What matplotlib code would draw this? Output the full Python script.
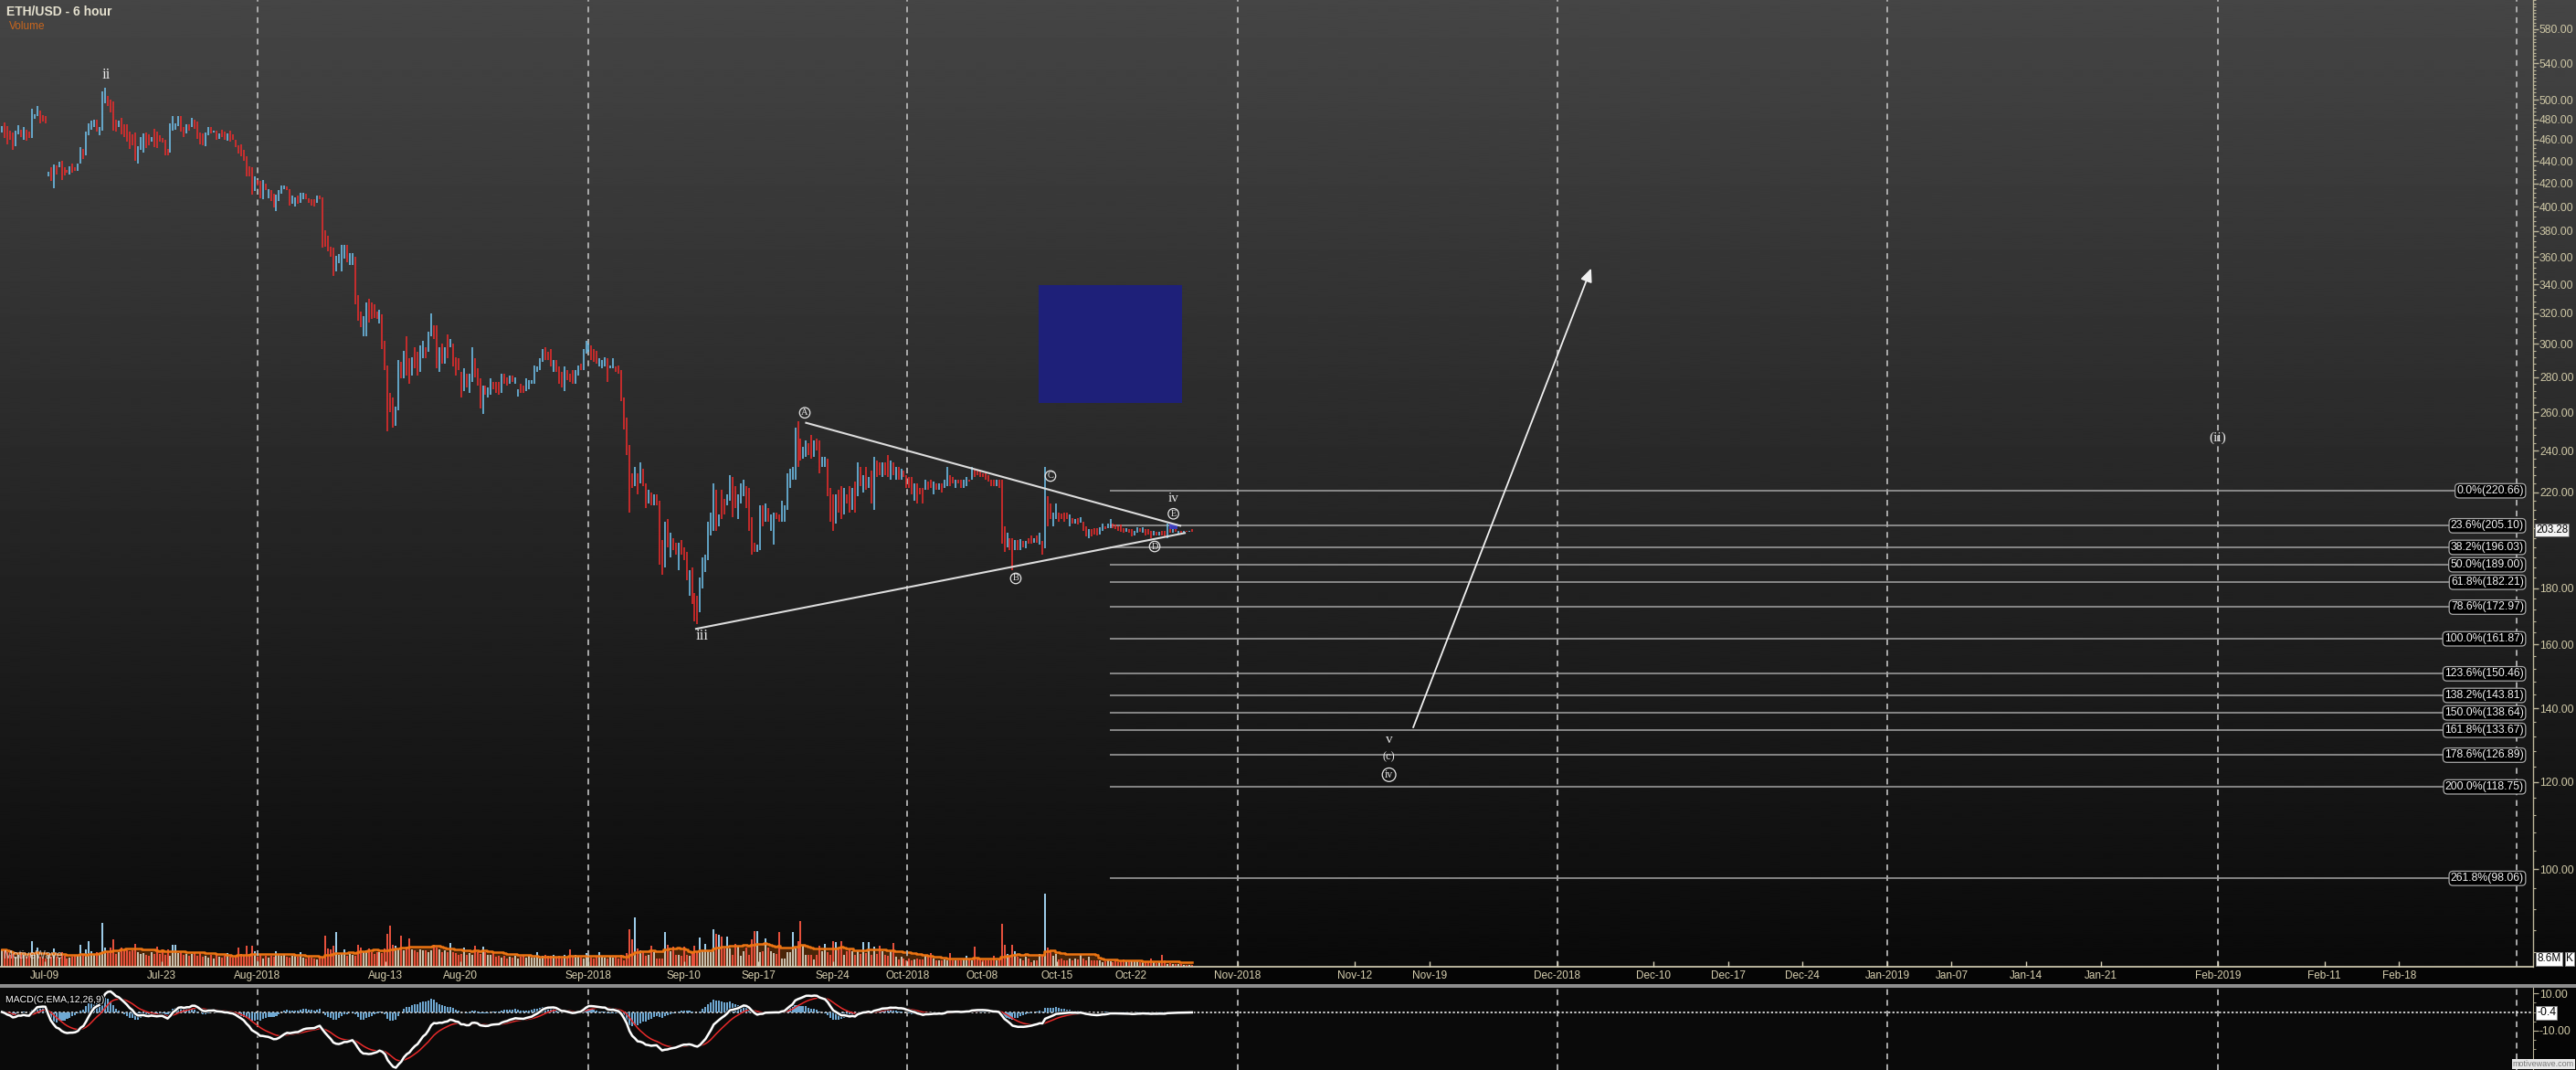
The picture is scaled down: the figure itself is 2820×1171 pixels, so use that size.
import numpy as np
import pandas as pd
import matplotlib
matplotlib.use("Agg")
import matplotlib.pyplot as plt
import matplotlib.patheffects as pe
from matplotlib.patches import Rectangle
from matplotlib.ticker import FixedLocator, NullFormatter

plt.rcParams['font.family'] = ['Liberation Sans', 'DejaVu Sans']

# ---------------------------------------------------------------- data
# 6-hour ETH/USD bars (high, low, direction u=up / d=down)
bar_high = [
    473, 477, 473, 469, 467, 469, 474, 470, 472, 470,
    468, 491, 485, 494, 489, 484, 483, 430, 434, 437,
    436, 439, 440, 434, 432, 435, 438, 434, 438, 453,
    451, 468, 476, 479, 480, 480, 472, 509, 513, 504,
    500, 498, 480, 479, 482, 475, 475, 468, 465, 467,
    454, 463, 466, 467, 465, 463, 471, 468, 464, 462,
    460, 451, 476, 483, 476, 483, 483, 472, 475, 475,
    482, 480, 478, 467, 466, 467, 472, 472, 469, 469,
    466, 470, 468, 466, 469, 465, 460, 455, 456, 450,
    444, 435, 434, 426, 423, 422, 423, 420, 415, 414,
    411, 410, 414, 418, 418, 417, 415, 409, 408, 409,
    412, 412, 411, 407, 406, 406, 409, 409, 408, 381,
    376, 368, 367, 361, 362, 369, 369, 369, 363, 363,
    360, 332, 321, 318, 327, 330, 327, 326, 321, 322,
    319, 302, 287, 271, 268, 263, 290, 289, 296, 305,
    291, 292, 298, 295, 299, 302, 298, 308, 320, 312,
    312, 298, 300, 298, 306, 303, 300, 292, 291, 283,
    285, 282, 282, 298, 291, 285, 279, 275, 275, 274,
    279, 277, 277, 277, 282, 282, 280, 281, 281, 280,
    273, 276, 275, 279, 278, 278, 287, 286, 291, 297,
    298, 295, 297, 290, 290, 286, 283, 286, 284, 282,
    284, 284, 287, 288, 297, 302, 300, 299, 297, 296,
    291, 290, 292, 291, 287, 291, 286, 287, 284, 268,
    257, 243, 229, 232, 229, 234, 231, 224, 221, 220,
    219, 219, 216, 199, 207, 208, 202, 200, 198, 198,
    199, 196, 194, 187, 188, 178, 177, 184, 192, 193,
    207, 211, 224, 221, 210, 221, 217, 219, 228, 227,
    223, 219, 224, 226, 223, 222, 209, 198, 197, 214,
    214, 215, 213, 210, 211, 211, 210, 216, 214, 229,
    231, 232, 252, 255, 246, 242, 245, 244, 248, 245,
    246, 245, 237, 237, 236, 222, 219, 219, 221, 223,
    222, 219, 223, 222, 225, 234, 232, 228, 232, 227,
    230, 237, 235, 234, 234, 234, 238, 235, 234, 232,
    232, 231, 230, 228, 227, 227, 224, 224, 222, 222,
    226, 225, 226, 225, 224, 224, 224, 226, 232, 228,
    227, 226, 226, 226, 226, 227, 226, 232, 231, 230,
    230, 229, 229, 228, 226, 226, 226, 226, 226, 205,
    202, 200, 200, 199, 199, 199.5, 198.5, 198.5, 200, 201,
    200, 201, 202, 198.5, 232, 218, 215, 211, 215, 211,
    210.5, 211, 211, 210, 208.5, 208, 208.5, 209, 207, 205,
    203.5, 203.5, 204, 204, 204.5, 206, 205, 206, 208, 206,
    205.5, 205, 205.5, 204, 204, 203.5, 203.5, 203, 204.5, 204,
    204.5, 203.5, 203.5, 203, 203, 202.5, 202.5, 203, 203, 206,
    205, 203.5, 203.5, 203, 203, 203, 203, 203, 203.5,
]
bar_low = [
    467, 462, 456, 460, 450, 454, 465, 463, 460, 459,
    462, 462, 481, 483, 476, 478, 476, 426, 422, 416,
    428, 434, 423, 427, 429, 428, 429, 431, 431, 438,
    442, 445, 464, 470, 472, 468, 464, 469, 497, 494,
    487, 469, 468, 472, 465, 463, 458, 451, 455, 440,
    438, 450, 448, 452, 455, 458, 453, 452, 458, 457,
    445, 445, 448, 469, 470, 473, 468, 463, 466, 469,
    472, 471, 461, 456, 455, 454, 464, 466, 467, 460,
    461, 463, 460, 459, 458, 460, 453, 447, 444, 440,
    426, 426, 410, 413, 418, 407, 406, 414, 407, 405,
    399, 396, 405, 411, 415, 414, 401, 402, 400, 402,
    403, 406, 406, 403, 401, 400, 403, 406, 367, 368,
    364, 360, 346, 349, 355, 349, 359, 356, 354, 354,
    326, 315, 311, 305, 305, 314, 316, 317, 316, 313,
    297, 284, 250, 260, 252, 253, 261, 279, 279, 281,
    276, 281, 285, 281, 283, 291, 291, 295, 305, 303,
    285, 283, 288, 288, 291, 298, 286, 281, 284, 268,
    272, 274, 271, 277, 280, 275, 262, 259, 270, 268,
    270, 273, 271, 270, 271, 276, 275, 276, 277, 276,
    269, 271, 271, 272, 273, 276, 276, 283, 284, 289,
    290, 290, 286, 283, 283, 276, 274, 272, 278, 277,
    276, 276, 281, 284, 284, 294, 295, 290, 289, 288,
    286, 285, 286, 277, 285, 285, 283, 282, 266, 251,
    238, 211, 222, 223, 219, 224, 223, 213, 215, 214,
    214, 214, 189, 185, 188, 196, 192, 195, 193, 187,
    193, 191, 183, 177, 174, 168, 167, 171, 180, 186,
    191, 201, 203, 203, 205, 208, 210, 214, 216, 209,
    213, 208, 215, 218, 213, 203, 193, 194, 194, 195,
    205, 207, 207, 203, 197, 208, 207, 207, 207, 212,
    222, 226, 226, 232, 235, 236, 237, 238, 236, 237,
    240, 229, 232, 232, 218, 207, 203, 206, 211, 208,
    210, 215, 211, 212, 211, 218, 223, 220, 221, 222,
    215, 212, 227, 228, 227, 228, 227, 226, 228, 226,
    226, 226, 227, 222, 222, 219, 216, 215, 219, 215,
    221, 221, 222, 219, 221, 221, 220, 222, 223, 223,
    224, 222, 224, 222, 222, 223, 225, 226, 227, 228,
    227, 227, 226, 225, 223, 223, 223, 222, 197.5, 194,
    196, 195, 187, 195, 195, 195, 196, 195.5, 197.5, 197.5,
    198, 198, 197, 193, 195.5, 205, 208, 205, 208, 207,
    208, 207, 208, 205, 206, 206, 205.5, 206.5, 203, 200.5,
    200, 200.5, 201.5, 201, 201.5, 203, 203.5, 204, 204, 204,
    203.5, 203, 202.5, 202, 202.5, 202, 200.5, 201, 202, 202.5,
    202, 201, 201.5, 200, 201, 201, 201, 201, 200.5, 200,
    202, 202, 202.5, 201.5, 202, 202, 202.5, 202.5, 202.5,
]
bar_dir = (
    "u d d d d u u d u d  d u u u d d d u d u  d u d d d u d d u u  "
    "d u u u u d u u u d  d d d u d d d d d d  u u u d d u d d d d  "
    "d d u u u u d d u d  u d d d d u u d u d  u d d u d d d d d d  "
    "d d d u d d u d u d  d u u u u d d u u d  u u d d d d u d d d  "
    "d d d u u u u d u u  d d d u u d d d d u  d d d d d u u d u d  "
    "d u d d u u d u u d  d u d u d u d d d d  u d u u d d d u d u  "
    "u d d d u d d u d u  u d d u u u u u u u  d d d u d d d u d d  "
    "d u u d u u u d d d  u u u d u u d d d d  d d d u d u d d u d  "
    "u d d d u d u d d u  d d d u d d d u u u  u u u d u d d u u d  "
    "d u u u d d d d u u  d u d u u d d u u u  u u u d d u u d d u  "
    "d d u u d d d u d d  u d d u d u d u d u  d u d d u d d u d u  "
    "d u d d d d u d d d  u d d u d u d u u d  d u d d u u d u d d  "
    "d d d d d d u d d d  u d d u d u d u d d  u d u d u d d u u d  "
    "d d d u d u d u d d  u d d d u u d u u d  d d d d u d d u u d  "
    "u d d d u d u d d u  d u d u d u d u d"
).split()
# volume per bar (millions)
volume = [
    19, 19, 16, 13, 14, 11, 13, 16, 13, 11,
    12, 28, 13, 21, 11, 10, 9, 12, 11, 20,
    11, 10, 16, 12, 9, 10, 11, 13, 12, 24,
    13, 19, 28, 17, 14, 16, 15, 48, 21, 16,
    21, 30, 14, 16, 21, 18, 18, 17, 18, 25,
    16, 14, 15, 13, 12, 16, 14, 22, 14, 19,
    13, 19, 12, 24, 24, 15, 16, 13, 14, 12,
    14, 15, 12, 15, 11, 12, 10, 13, 9, 14,
    11, 10, 12, 15, 11, 10, 12, 21, 14, 13,
    23, 14, 23, 17, 11, 13, 9, 12, 10, 12,
    11, 17, 13, 12, 14, 11, 10, 12, 13, 11,
    16, 10, 9, 11, 10, 9, 8, 10, 11, 34,
    20, 19, 23, 38, 13, 14, 19, 12, 14, 13,
    12, 24, 21, 16, 18, 20, 16, 14, 16, 16,
    15, 20, 36, 45, 24, 23, 19, 34, 18, 22,
    31, 19, 18, 16, 19, 18, 18, 16, 18, 24,
    21, 19, 16, 18, 16, 26, 16, 15, 13, 14,
    21, 13, 15, 13, 23, 16, 14, 22, 16, 13,
    13, 15, 11, 12, 10, 12, 9, 11, 10, 12,
    9, 11, 13, 10, 12, 10, 10, 16, 9, 12,
    13, 12, 12, 13, 10, 12, 9, 13, 11, 19,
    12, 13, 11, 10, 9, 15, 13, 10, 9, 12,
    16, 12, 10, 9, 11, 10, 12, 9, 13, 7,
    15, 41, 30, 54, 20, 18, 17, 12, 13, 23,
    16, 9, 9, 9, 38, 24, 17, 22, 13, 13,
    12, 22, 13, 12, 16, 23, 17, 32, 18, 25,
    18, 16, 41, 36, 35, 33, 20, 33, 20, 13,
    25, 22, 12, 17, 21, 13, 30, 39, 39, 16,
    17, 31, 21, 17, 15, 14, 38, 9, 9, 16,
    16, 38, 20, 28, 50, 23, 13, 13, 13, 8,
    13, 23, 17, 25, 16, 13, 28, 27, 20, 28,
    13, 17, 19, 17, 13, 17, 14, 27, 15, 27,
    13, 22, 14, 23, 17, 13, 12, 17, 26, 11,
    8, 11, 9, 7, 9, 7, 8, 9, 8, 8,
    13, 11, 15, 9, 7, 7, 7, 8, 7, 15,
    7, 7, 7, 7, 8, 12, 8, 7, 22, 10,
    8, 7, 7, 7, 7, 12, 7, 8, 47, 24,
    14, 12, 24, 17, 11, 9, 7, 11, 9, 5,
    7, 7, 14, 13, 80, 21, 17, 12, 14, 8,
    9, 7, 7, 9, 7, 9, 8, 13, 9, 7,
    11, 7, 7, 7, 7, 5, 6, 7, 6, 5,
    8, 5, 6, 8, 6, 6, 7, 6, 6, 5,
    6, 5, 6, 9, 6, 4, 5, 13, 7, 3,
    4, 3, 3, 3, 3, 2, 2, 2, 2,
]
last_price = 203.28
last_volume_label = "8.6M"
last_macd_label = "-0.4"

fib_pcts = ['0.0', '23.6', '38.2', '50.0', '61.8', '78.6', '100.0',
            '123.6', '138.2', '150.0', '161.8', '178.6', '200.0', '261.8']
fib_prices = [220.66, 205.10, 196.03, 189.00, 182.21, 172.97, 161.87,
              150.46, 143.81, 138.64, 133.67, 126.89, 118.75, 98.06]

price_ticks = [100, 120, 140, 160, 180, 220, 240, 260, 280, 300, 320, 340,
               360, 380, 400, 420, 440, 460, 480, 500, 540, 580]

tick_labels = ['Jul-09', 'Jul-23', 'Aug-2018', 'Aug-13', 'Aug-20', 'Sep-2018',
               'Sep-10', 'Sep-17', 'Sep-24', 'Oct-2018', 'Oct-08', 'Oct-15',
               'Oct-22', 'Nov-2018', 'Nov-12', 'Nov-19', 'Dec-2018', 'Dec-10',
               'Dec-17', 'Dec-24', 'Jan-2019', 'Jan-07', 'Jan-14', 'Jan-21',
               'Feb-2019', 'Feb-11', 'Feb-18']
tick_dates = ['2018-07-09', '2018-07-23', '2018-08-01', '2018-08-13', '2018-08-20',
              '2018-09-01', '2018-09-10', '2018-09-17', '2018-09-24', '2018-10-01',
              '2018-10-08', '2018-10-15', '2018-10-22', '2018-11-01', '2018-11-12',
              '2018-11-19', '2018-12-01', '2018-12-10', '2018-12-17', '2018-12-24',
              '2019-01-01', '2019-01-07', '2019-01-14', '2019-01-21', '2019-02-01',
              '2019-02-11', '2019-02-18']
month_dates = ['2018-08-01', '2018-09-01', '2018-10-01', '2018-11-01',
               '2018-12-01', '2019-01-01', '2019-02-01', '2019-03-01']

# Elliott-wave annotations: (text, day since 2018-07-01, price, size)
wave_plain = [('ii', 16.75, 527.0, 12), ('iii', 72.73, 163.0, 12),
              ('iv', 116.96, 217.0, 11), ('v', 137.2, 131.0, 11),
              ('(c)', 137.2, 126.4, 9), ('(ii)', 215.0, 246.6, 11)]
wave_circled = [('A', 82.36, 259.8, 7.5), ('B', 102.16, 183.7, 7.5),
                ('C', 105.42, 227.6, 7.5), ('D', 115.2, 196.4, 7.5),
                ('E', 116.96, 210.3, 7.5), ('iv', 137.2, 121.8, 8.5)]
tri_upper = [(82.48, 254.4), (117.6, 205.1)]
tri_lower = [(72.15, 165.3), (118.03, 202.0)]
arrow_from, arrow_to = (139.38, 133.8), (156.26, 353.3)
box_days, box_prices = (104.3, 117.8), (265.2, 339.4)
fib_start_day = 111.0

# ---------------------------------------------------------------- layout
W, H = 2820, 1171
PX_PER_DAY = 11.663
LEFT_DAY = 6.82
PLOT_W = 2773
PRICE_H = 1058
MACD_TOP = 1081
BAR_START, BAR_STEP = 7.0, 0.255
PRICE_LIM = (81.5, 616.3)
MACD_LIM = (-30.98, 12.93)


def day_of_px(px):
    return LEFT_DAY + px / PX_PER_DAY


def day_of_date(s):
    t = pd.Timestamp(s)
    d = (t - pd.Timestamp('2018-07-01')).days
    # bar feed has a 3-day hole before Jul-12, which shifts earlier dates right
    return d + (3 if t < pd.Timestamp('2018-07-12') else 0)


XMIN, XMAX = LEFT_DAY, day_of_px(PLOT_W)
BEIGE = '#cfc8a6'
AXBEIGE = '#bdb69a'

highs = np.array(bar_high, float)
lows = np.array(bar_low, float)
assert len(highs) == len(lows) == len(bar_dir) == len(volume), (len(highs), len(lows), len(bar_dir), len(volume))
n = len(highs)
x = BAR_START + BAR_STEP * np.arange(n)
up = np.array([d == 'u' for d in bar_dir])
closes = np.where(up, lows + 0.8 * (highs - lows), lows + 0.2 * (highs - lows))
vol = np.array(volume, float)
vol_ma = pd.Series(vol).rolling(20, min_periods=1).mean().values

cs = pd.Series(closes)
macd = (cs.ewm(span=12, adjust=False).mean() - cs.ewm(span=26, adjust=False).mean()).values
signal = pd.Series(macd).ewm(span=9, adjust=False).mean().values
hist = macd - signal

fig = plt.figure(figsize=(W / 100, H / 100), dpi=100, facecolor='#050505')

# background gradient for the price panel
bg = fig.add_axes([0, 1 - PRICE_H / H, 1, PRICE_H / H])
grad = np.linspace(0x45, 0x0a, 512)[:, None]
bg.imshow(grad, cmap='gray', vmin=0, vmax=255, aspect='auto',
          extent=[0, 1, 0, 1], interpolation='bilinear')
bg.axis('off')

# ---------------- volume (overlay at bottom of price panel)
axv = fig.add_axes([0, 1 - PRICE_H / H, PLOT_W / W, PRICE_H / H])
axv.patch.set_alpha(0)
axv.set_xlim(XMIN, XMAX)
axv.set_ylim(0, PRICE_H)
axv.axis('off')
axv.fill_between(x, 0, vol_ma, step='mid', color='#4a2508', lw=0, zorder=1)
axv.vlines(x[~up], 0, vol[~up], color='#e5503c', lw=1.45, zorder=2)
low_part = np.minimum(vol, vol_ma)
axv.vlines(x[up], 0, low_part[up], color='#c9bfac', lw=1.45, zorder=2)
sel = up & (vol > vol_ma)
axv.vlines(x[sel], vol_ma[sel], vol[sel], color='#9ccbe8', lw=1.45, zorder=2)
axv.plot(x, vol_ma, drawstyle='steps-mid', color='#ec7412', lw=1.8, zorder=3)
axv.text(1.0 + 4 / PLOT_W, 8.6, last_volume_label, transform=axv.get_yaxis_transform(),
         ha='left', va='center', fontsize=8.5, color='black',
         bbox=dict(boxstyle='square,pad=0.12', fc='white', ec='#888888', lw=0.6))
axv.text(1.0 + 36 / PLOT_W, 8.6, 'K', transform=axv.get_yaxis_transform(),
         ha='left', va='center', fontsize=8.5, color='black',
         bbox=dict(boxstyle='square,pad=0.12', fc='white', ec='#888888', lw=0.6))

# ---------------- price panel
ax = fig.add_axes([0, 1 - PRICE_H / H, PLOT_W / W, PRICE_H / H])
ax.patch.set_alpha(0)
ax.set_yscale('log')
ax.set_xlim(XMIN, XMAX)
ax.set_ylim(*PRICE_LIM)

for s in ['top', 'left']:
    ax.spines[s].set_visible(False)
ax.spines['right'].set_color(AXBEIGE)
ax.spines['bottom'].set_color('#d8d2b8')
ax.spines['right'].set_linewidth(1.0)
ax.spines['bottom'].set_linewidth(1.2)

ax.yaxis.tick_right()
ax.yaxis.set_major_locator(FixedLocator(price_ticks))
ax.yaxis.set_major_formatter(matplotlib.ticker.FixedFormatter([f'{v:.2f}' for v in price_ticks]))
ax.yaxis.set_minor_locator(FixedLocator(np.arange(84, 617, 4)))
ax.yaxis.set_minor_formatter(NullFormatter())
ax.tick_params(axis='y', which='major', direction='out', length=4, width=1,
               color=AXBEIGE, labelcolor=BEIGE, labelsize=8.8, pad=1)
ax.tick_params(axis='y', which='minor', direction='out', length=2.5, width=0.8, color=AXBEIGE)

ax.set_xticks([day_of_date(d) for d in tick_dates])
ax.set_xticklabels(tick_labels)
ax.tick_params(axis='x', which='major', direction='in', length=4, width=1,
               color='#d8d2b8', labelcolor='#d8d0b0', labelsize=8.5, pad=3)

dash = (0, (3.5, 3))
for d in month_dates:
    ax.axvline(day_of_date(d), color='#b4b4b4', lw=1.3, ls=dash, zorder=1)

# bars
ax.vlines(x[up], lows[up], highs[up], color='#72c6f2', lw=1.1, zorder=4)
ax.vlines(x[~up], lows[~up], highs[~up], color='#f02c2c', lw=1.1, zorder=4)

# blue rectangle
ax.add_patch(Rectangle((box_days[0], box_prices[0]), box_days[1] - box_days[0],
                       box_prices[1] - box_prices[0], color='#1e2079', lw=0, zorder=2))
ax.add_patch(Rectangle((116.57, 203.6), 0.77, 2.5, color='#3d3fd0', alpha=0.85, lw=0, zorder=5))

# fib lines + labels
fib_label_day = day_of_px(2763)
ax.hlines(fib_prices, fib_start_day, fib_label_day, color='#a4a4a4', lw=1.1, zorder=3)
for pct, v in zip(fib_pcts, fib_prices):
    ax.text(fib_label_day, v, f'{pct}%({v:.2f})', ha='right', va='center',
            fontsize=8.8, color='#f2f2f2', zorder=6,
            bbox=dict(boxstyle='round,pad=0.15,rounding_size=0.35', fc='black',
                      ec='#a8a8a8', lw=0.9))

# triangle
for seg in (tri_upper, tri_lower):
    ax.plot([p[0] for p in seg], [p[1] for p in seg], color='#dcdcdc', lw=1.5, zorder=5)

# projection arrow
ax.annotate('', xy=arrow_to, xytext=arrow_from,
            arrowprops=dict(arrowstyle='-|>,head_length=0.8,head_width=0.35',
                            color='#f0f0f0', lw=1.3, mutation_scale=11), zorder=6)

WAVE_C = '#e6e6e6'
for t, d, p, fs in wave_plain:
    ax.text(d, p, t, ha='center', va='center', fontsize=fs, color=WAVE_C,
            family=['Liberation Serif', 'DejaVu Serif'], zorder=7)
for t, d, p, fs in wave_circled:
    ax.text(d, p, t, ha='center', va='center', fontsize=fs, color=WAVE_C,
            family=['Liberation Serif', 'DejaVu Serif'], zorder=7,
            bbox=dict(boxstyle='circle,pad=0.12', fc='none', ec=WAVE_C, lw=0.9))

# current price tag
ax.text(1.0 + 3 / PLOT_W, last_price, f'{last_price:.2f}', transform=ax.get_yaxis_transform(),
        ha='left', va='center', fontsize=8.3, color='black', zorder=8,
        bbox=dict(boxstyle='square,pad=0.1', fc='#f4f4f4', ec='#666666', lw=0.6))

# ---------------- separator and MACD
fig.add_artist(Rectangle((0, 1 - MACD_TOP / H), 1, 4 / H, transform=fig.transFigure,
                         color='#8e8e8e', lw=0))

axm = fig.add_axes([0, 0, PLOT_W / W, (H - MACD_TOP) / H], facecolor='#0a0a0a')
axm.set_xlim(XMIN, XMAX)
axm.set_ylim(*MACD_LIM)
for s in ['top', 'left', 'bottom']:
    axm.spines[s].set_visible(False)
axm.spines['right'].set_color(AXBEIGE)
axm.set_xticks([])
axm.yaxis.tick_right()
axm.set_yticks([10, -10])
axm.set_yticklabels(['10.00', '-10.00'])
axm.yaxis.set_minor_locator(FixedLocator([-30, -25, -20, -15, -5, 0, 5]))
axm.tick_params(axis='y', which='major', direction='out', length=4, color=AXBEIGE,
                labelcolor=BEIGE, labelsize=8.8, pad=1)
axm.tick_params(axis='y', which='minor', direction='out', length=2.5, color=AXBEIGE)
for d in month_dates:
    axm.axvline(day_of_date(d), color='#b4b4b4', lw=1.3, ls=dash, zorder=1)
axm.axhline(0, color='white', lw=1.1, ls=(0, (1.5, 1.5)), zorder=2)
axm.bar(x, hist, width=BAR_STEP * 0.7, color='#6fa8d2', lw=0, zorder=3)
axm.plot(x, signal, color='#e82a2a', lw=1.1, zorder=4)
axm.plot(x, macd, color='white', lw=1.8, zorder=5,
         path_effects=[pe.Stroke(linewidth=3.0, foreground='#111111'), pe.Normal()])
axm.text(1.0 + 4 / PLOT_W, -0.4, last_macd_label, transform=axm.get_yaxis_transform(),
         ha='left', va='center', fontsize=8.8, color='black',
         bbox=dict(boxstyle='square,pad=0.12', fc='white', ec='#888888', lw=0.6))

# ---------------- texts
fig.text(7 / W, 1 - 13 / H, 'ETH/USD - 6 hour', ha='left', va='center',
         fontsize=10, fontweight='bold', color='#e6e2d0')
fig.text(10 / W, 1 - 29 / H, 'Volume', ha='left', va='center', fontsize=8.5, color='#c8661e')
fig.text(4 / W, 1 - 1046 / H, 'MotiveWave', ha='left', va='center', fontsize=8.5,
         color='#e8e8e8', alpha=0.7)
fig.text(6 / W, 1 - 1094 / H, 'MACD(C,EMA,12,26,9)', ha='left', va='center', fontsize=7.5,
         color='white', path_effects=[pe.withStroke(linewidth=2, foreground='black')])
fig.text(1 - 2 / W, 2 / H, 'motivewave.com', ha='right', va='bottom', fontsize=6.5,
         color='#777777', bbox=dict(boxstyle='square,pad=0.1', fc='#e8e8e8', ec='none'))

fig.savefig('out.png', dpi=100, facecolor=fig.get_facecolor())
